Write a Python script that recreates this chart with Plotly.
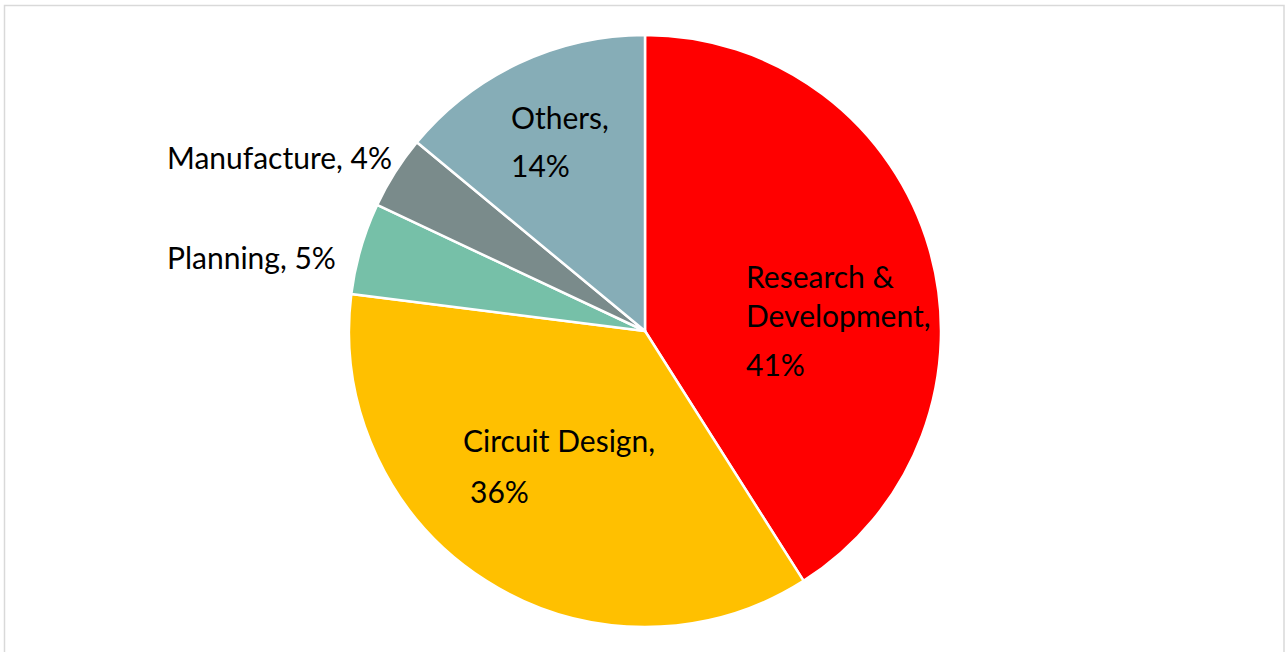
import plotly.graph_objects as go

labels = ["Research & Development", "Circuit Design", "Planning", "Manufacture", "Others"]
values = [41, 36, 5, 4, 14]
colors = ["#FF0000", "#FFC000", "#76C0A8", "#7A8B8B", "#86ADB7"]

# label text lines and their placement (pixel positions, left-aligned, vertical centre)
label_lines = [
    ("Research &", 744, 276),
    ("Development,", 744, 315),
    ("41%", 744, 364),
    ("Circuit Design,", 461, 440),
    ("36%", 468, 491),
    ("Others,", 509, 117),
    ("14%", 509, 165),
    ("Manufacture, 4%", 165, 157),
    ("Planning, 5%", 165, 257),
]

W, H = 1285, 652
cx, cy, r = 645, 331, 296

fig = go.Figure(go.Pie(
    labels=labels,
    values=values,
    sort=False,
    direction="clockwise",
    rotation=0,
    marker=dict(colors=colors, line=dict(color="white", width=2.5)),
    textinfo="none",
    hoverinfo="label+percent",
    domain=dict(x=[(cx - r) / W, (cx + r) / W], y=[1 - (cy + r) / H, 1 - (cy - r) / H]),
    showlegend=False,
))

for text, px, py in label_lines:
    fig.add_annotation(
        text=text, x=px / W, y=1 - py / H, xref="paper", yref="paper",
        xanchor="left", yanchor="middle", showarrow=False,
        font=dict(family="Lato, sans-serif", size=30, color="#000000"),
    )

fig.add_shape(type="rect", xref="paper", yref="paper",
              x0=4.5 / W, x1=1284 / W, y0=-0.02, y1=1 - 5.5 / H,
              line=dict(color="#D9D9D9", width=1.5))

fig.update_layout(
    width=W, height=H,
    margin=dict(l=0, r=0, t=0, b=0),
    paper_bgcolor="white",
    plot_bgcolor="white",
)

fig.write_html("out.html", config={"displayModeBar": False},
               post_script="document.body.style.margin='0';document.body.style.overflow='hidden';")
